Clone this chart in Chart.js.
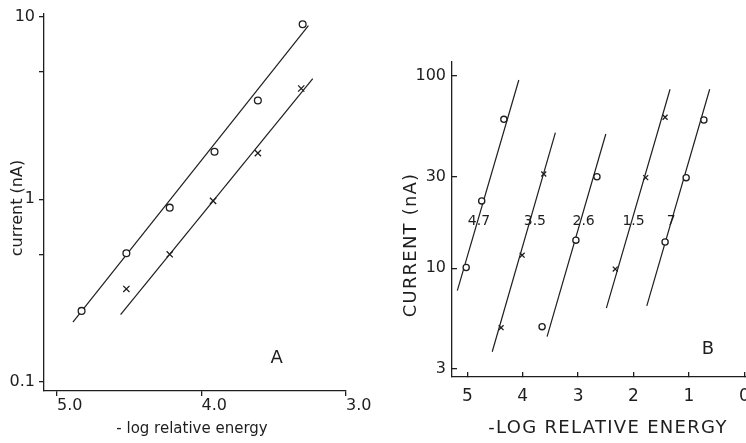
<!DOCTYPE html>
<html>
<head>
<meta charset="utf-8">
<script src="https://cdn.jsdelivr.net/npm/chart.js@4.4.0/dist/chart.umd.min.js"></script>
<style>
  html, body { margin: 0; padding: 0; background: #fff; overflow: hidden; width: 746px; height: 443px; }
  canvas { position: absolute; top: 0; }
  #chartA { left: 0; }
  #chartB { left: 373px; }
</style>
</head>
<body>
<canvas id="chartA" width="373" height="443"></canvas>
<canvas id="chartB" width="420" height="443"></canvas>
<script>
// panel A
const aTickX = [5, 4, 3];
const aTickXLabels = ['5.0', '4.0', '3.0'];
const aTickY = [10, 5, 1, 0.5, 0.1];
const aTickYLabels = ['10', '', '1', '', '0.1'];

const aCircleX = [4.83, 4.52, 4.22, 3.91, 3.61, 3.30];
const aCircleY = [0.245, 0.507, 0.90, 1.82, 3.47, 9.08];
const aCrossX = [4.52, 4.22, 3.92, 3.61, 3.31];
const aCrossY = [0.323, 0.50, 0.98, 1.79, 4.04];
const aFitCircleX = [4.89, 3.26];
const aFitCircleY = [0.213, 8.93];
const aFitCrossX = [4.56, 3.23];
const aFitCrossY = [0.234, 4.58];

// panel B
const bTickX = [5, 4, 3, 2, 1, 0];
const bTickXLabels = ['5', '4', '3', '2', '1', '0'];
const bTickY = [100, 30, 10, 3];
const bTickYLabels = ['100', '30', '10', '3'];

const bSeries = ['4.7', '3.5', '2.6', '1.5', '7'];
const bMarks = ['circle', 'crossRot', 'circle', 'crossRot', 'circle'];
const bPointX = [[5.02, 4.74, 4.34], [4.39, 4.01, 3.62], [3.65, 3.04, 2.66], [2.33, 1.78, 1.43], [1.43, 1.05, 0.73]];
const bPointY = [[10.1, 22.4, 59.5], [4.91, 11.7, 30.9], [4.97, 14.0, 29.9], [9.9, 29.6, 61.0], [13.7, 29.6, 59.0]];
const bFitX = [[5.18, 4.07], [4.55, 3.41], [3.56, 2.50], [2.49, 1.34], [1.76, 0.625]];
const bFitY = [[7.65, 95.3], [3.68, 50.7], [4.41, 49.9], [6.2, 85.3], [6.37, 85.3]];
const bLabelX = [4.79, 3.78, 2.90, 2.0, 1.32];
const bLabelY = [17.5, 17.5, 17.5, 17.5, 17.5];

const ink = '#1e1e1e';
const fam = 'DejaVu Sans';

const pts = (xs, ys) => xs.map((x, i) => ({ x, y: ys[i] }));
const fixTicks = values => scale => { scale.ticks = values.map(v => ({ value: v })); };

// text drawn on top of the chart: axis titles, panel letter, curve labels
const noteText = {
    id: 'noteText',
    afterDraw(chart, args, opts) {
        const ctx = chart.ctx;
        const sx = chart.scales.x, sy = chart.scales.y;
        (opts.items || []).forEach(it => {
            const x = it.dataX !== undefined ? sx.getPixelForValue(it.dataX) : it.x;
            const y = it.dataY !== undefined ? sy.getPixelForValue(it.dataY) : it.y;
            ctx.save();
            ctx.translate(x, y);
            if (it.rotate) ctx.rotate(it.rotate);
            ctx.font = it.font;
            ctx.fillStyle = ink;
            ctx.letterSpacing = it.spacing || '0px';
            ctx.textAlign = 'center';
            ctx.textBaseline = 'middle';
            ctx.fillText(it.text, 0, 0);
            ctx.restore();
        });
    }
};

const marker = (data, style, r) => ({
    data, pointStyle: style, pointRadius: r, borderColor: ink, backgroundColor: '#fff',
    borderWidth: 1.3, order: 0
});
const fitLine = data => ({
    data, showLine: true, pointRadius: 0, borderColor: ink, borderWidth: 1.2, order: 1
});

new Chart(document.getElementById('chartA'), {
    type: 'scatter',
    data: {
        datasets: [
            marker(pts(aCircleX, aCircleY), 'circle', 3.4),
            marker(pts(aCrossX, aCrossY), 'crossRot', 4.4),
            fitLine(pts(aFitCircleX, aFitCircleY)),
            fitLine(pts(aFitCrossX, aFitCrossY))
        ]
    },
    options: {
        responsive: false,
        animation: false,
        layout: { padding: { top: 12, right: 27, left: 0, bottom: 0 } },
        plugins: {
            legend: { display: false },
            tooltip: { enabled: false },
            noteText: {
                items: [
                    { text: 'current (nA)', x: 18, y: 208, rotate: -Math.PI / 2, font: '16px ' + fam },
                    { text: '- log relative energy', x: 192, y: 429.5, font: '15px ' + fam },
                    { text: 'A', dataX: 3.48, dataY: 0.135, font: '18px ' + fam }
                ]
            }
        },
        scales: {
            x: {
                type: 'linear', reverse: true, min: 3.0, max: 5.09,
                afterBuildTicks: fixTicks(aTickX),
                afterFit: s => { s.height = 52; },
                ticks: {
                    autoSkip: false, maxRotation: 0, align: 'start', padding: 0, color: ink,
                    font: { family: fam, size: 16 },
                    callback: (v, i) => aTickXLabels[i]
                },
                grid: { drawOnChartArea: false, tickLength: 5, color: ink, lineWidth: 1.3 },
                border: { color: ink, width: 1.3 }
            },
            y: {
                type: 'logarithmic', min: 0.0893, max: 10.38,
                afterBuildTicks: fixTicks(aTickY),
                afterFit: s => { s.width = 44; },
                ticks: {
                    autoSkip: false, padding: 4, color: ink,
                    font: { family: fam, size: 16 },
                    callback: (v, i) => aTickYLabels[i]
                },
                grid: { drawOnChartArea: false, tickLength: 5, color: ink, lineWidth: 1.3 },
                border: { color: ink, width: 1.3 }
            }
        }
    },
    plugins: [noteText]
});

const bSets = [];
bSeries.forEach((name, k) => {
    bSets.push(marker(pts(bPointX[k], bPointY[k]), bMarks[k], bMarks[k] === 'circle' ? 3.1 : 3.5));
    bSets.push(fitLine(pts(bFitX[k], bFitY[k])));
});

new Chart(document.getElementById('chartB'), {
    type: 'scatter',
    data: { datasets: bSets },
    options: {
        responsive: false,
        animation: false,
        layout: { padding: { top: 62, right: 33, left: 0, bottom: 0 } },
        plugins: {
            legend: { display: false },
            tooltip: { enabled: false },
            noteText: {
                items: [
                    { text: 'CURRENT (nA)', x: 38, y: 245, rotate: -Math.PI / 2, font: '18px ' + fam, spacing: '1.2px' },
                    { text: '-LOG RELATIVE ENERGY', x: 235, y: 428, font: '18px ' + fam, spacing: '1.3px' },
                    { text: 'B', dataX: 0.655, dataY: 3.8, font: '18px ' + fam }
                ].concat(bSeries.map((name, k) => (
                    { text: name, dataX: bLabelX[k], dataY: bLabelY[k], font: '14px ' + fam }
                )))
            }
        },
        scales: {
            x: {
                type: 'linear', reverse: true, min: -0.283, max: 5.276,
                afterBuildTicks: fixTicks(bTickX),
                afterFit: s => { s.height = 66; },
                ticks: {
                    autoSkip: false, maxRotation: 0, padding: 14, color: ink,
                    font: { family: fam, size: 17 },
                    callback: (v, i) => bTickXLabels[i]
                },
                grid: { drawOnChartArea: false, tickLength: -5, color: ink, lineWidth: 1.3 },
                border: { color: ink, width: 1.3 }
            },
            y: {
                type: 'logarithmic', min: 2.72, max: 118.2,
                afterBuildTicks: fixTicks(bTickY),
                afterFit: s => { s.width = 79; },
                ticks: {
                    autoSkip: false, padding: 11, color: ink,
                    font: { family: fam, size: 16 },
                    callback: (v, i) => bTickYLabels[i]
                },
                grid: { drawOnChartArea: false, tickLength: -5, color: ink, lineWidth: 1.3 },
                border: { color: ink, width: 1.3 }
            }
        }
    },
    plugins: [noteText]
});
</script>
</body>
</html>
